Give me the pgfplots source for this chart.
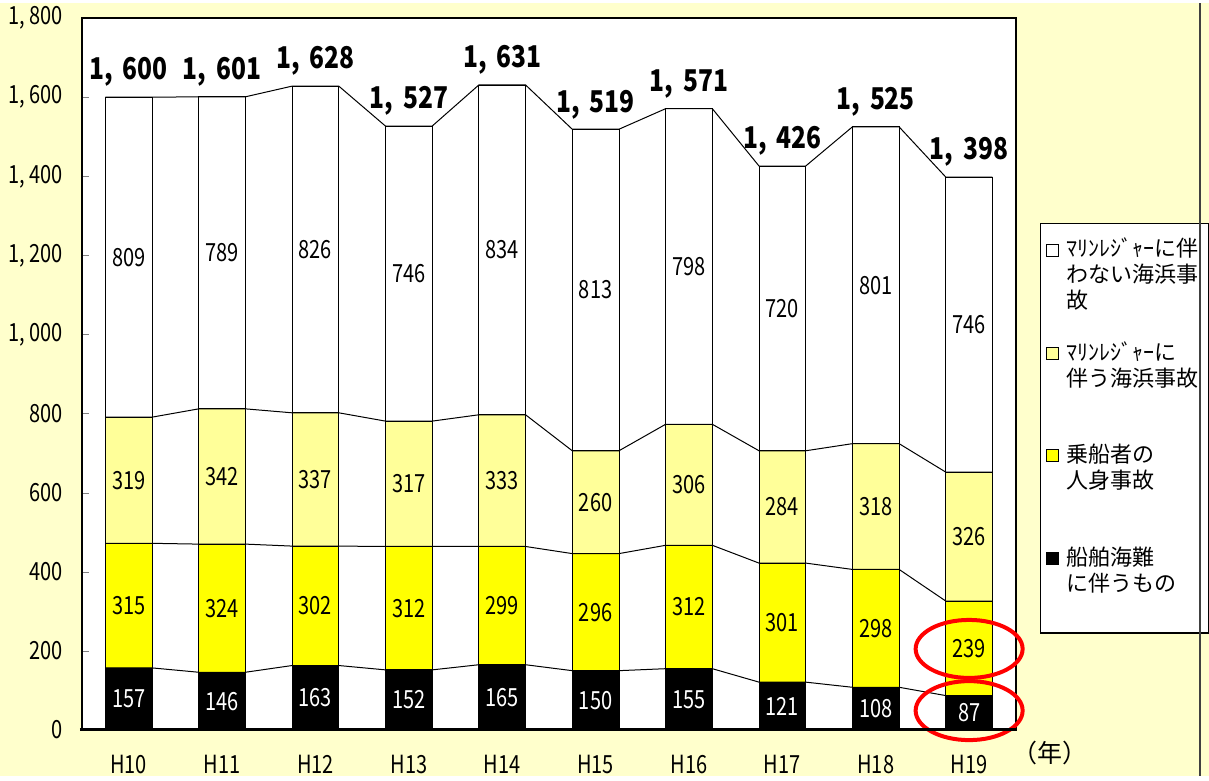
\documentclass[border=0pt]{standalone}
\usepackage{pgfplots}
\pgfplotsset{compat=1.18}
\usepackage{fontspec}
\setmainfont{Noto Sans CJK JP}
\usetikzlibrary{backgrounds}

\definecolor{bg}{HTML}{FFFFCC}
\definecolor{lyel}{HTML}{FFFF99}
\definecolor{yel}{HTML}{FFFF00}
\newcommand{\nx}[1]{\scalebox{0.8}[1]{#1}}
% every legend entry has three lines; base is the last line
\newcommand{\lgx}[3]{\begin{tabular}[b]{@{}l@{}}#1\\#2\\#3\end{tabular}}
\newcommand{\cs}{,\hspace{0.4em}}

\pgfplotsset{
  base/.style={
    scale only axis, width=467pt, height=356pt,
    xmin=-0.5, xmax=9.5, ymin=0, ymax=1800,
  },
  lbl/.style={
    draw=none, mark=none, forget plot,
    nodes near coords={\nx{\pgfplotspointmeta}},
    point meta=explicit symbolic,
    nodes near coords style={anchor=center, inner sep=0pt,
      font=\fontsize{12.5}{14}\selectfont, text=#1},
  },
  sline/.style={black, line width=0.5pt, mark=none, forget plot},
}

\begin{document}
\begin{tikzpicture}
\begin{axis}[base,
    ybar stacked, bar width=0.5,
    axis line style={black, line width=0.8pt},
    tick align=inside, ytick pos=left,
    major tick length=3.5pt,
    ytick={0,200,...,1800},
    yticklabels={\nx{0},\nx{200},\nx{400},\nx{600},\nx{800},
      {\nx{1,\ 000}},{\nx{1,\ 200}},{\nx{1,\ 400}},{\nx{1,\ 600}},{\nx{1,\ 800}}},
    yticklabel style={font=\fontsize{12.5}{14}\selectfont, xshift=-6pt},
    xtick={0,...,9},
    xticklabels={\nx{H10},\nx{H11},\nx{H12},\nx{H13},\nx{H14},
      \nx{H15},\nx{H16},\nx{H17},\nx{H18},\nx{H19}},
    xticklabel style={font=\fontsize{12.5}{14}\selectfont, yshift=-9pt},
    x tick style={draw=none},
    reverse legend,
    legend image code/.code={\draw[#1, draw=black, line width=0.5pt] (0pt,26pt) rectangle (6pt,32pt);},
    legend style={at={(1,1)}, anchor=north west, xshift=12pt, yshift=-102.5pt,
      draw=black, fill=white, line width=0.6pt,
      font=\fontsize{11}{12.5}\selectfont, row sep=11pt, column sep=1.5pt,
      inner ysep=5pt, inner xsep=3pt,
      cells={anchor=base west}},
  ]
  \addplot[fill=black, draw=black, line width=0.4pt] coordinates
    {(0,157) (1,146) (2,163) (3,152) (4,165) (5,150) (6,155) (7,121) (8,108) (9,87)};
  \addlegendentry{\lgx{船舶海難}{に伴うもの}{\mbox{}}}
  \addplot[fill=yel, draw=black, line width=0.4pt] coordinates
    {(0,315) (1,324) (2,302) (3,312) (4,299) (5,296) (6,312) (7,301) (8,298) (9,239)};
  \addlegendentry{\lgx{乗船者の}{人身事故}{\mbox{}}}
  \addplot[fill=lyel, draw=black, line width=0.4pt] coordinates
    {(0,319) (1,342) (2,337) (3,317) (4,333) (5,260) (6,306) (7,284) (8,318) (9,326)};
  \addlegendentry{\lgx{ﾏﾘﾝﾚｼﾞｬｰに}{伴う海浜事故}{\mbox{}}}
  \addplot[fill=white, draw=black, line width=0.4pt] coordinates
    {(0,809) (1,789) (2,826) (3,746) (4,834) (5,813) (6,798) (7,720) (8,801) (9,746)};
  \addlegendentry{\lgx{ﾏﾘﾝﾚｼﾞｬｰに伴}{わない海浜事}{故}}
\end{axis}

\begin{axis}[base, hide axis, clip=false]
  % series lines (cumulative tops)
  \addplot[sline] coordinates {(-0.25,157)(0.25,157)(0.75,146)(1.25,146)(1.75,163)(2.25,163)(2.75,152)(3.25,152)(3.75,165)(4.25,165)(4.75,150)(5.25,150)(5.75,155)(6.25,155)(6.75,121)(7.25,121)(7.75,108)(8.25,108)(8.75,87)(9.25,87)};
  \addplot[sline] coordinates {(-0.25,472)(0.25,472)(0.75,470)(1.25,470)(1.75,465)(2.25,465)(2.75,464)(3.25,464)(3.75,464)(4.25,464)(4.75,446)(5.25,446)(5.75,467)(6.25,467)(6.75,422)(7.25,422)(7.75,406)(8.25,406)(8.75,326)(9.25,326)};
  \addplot[sline] coordinates {(-0.25,791)(0.25,791)(0.75,812)(1.25,812)(1.75,802)(2.25,802)(2.75,781)(3.25,781)(3.75,797)(4.25,797)(4.75,706)(5.25,706)(5.75,773)(6.25,773)(6.75,706)(7.25,706)(7.75,724)(8.25,724)(8.75,652)(9.25,652)};
  \addplot[sline] coordinates {(-0.25,1600)(0.25,1600)(0.75,1601)(1.25,1601)(1.75,1628)(2.25,1628)(2.75,1527)(3.25,1527)(3.75,1631)(4.25,1631)(4.75,1519)(5.25,1519)(5.75,1571)(6.25,1571)(6.75,1426)(7.25,1426)(7.75,1525)(8.25,1525)(8.75,1398)(9.25,1398)};
  % segment labels
  \addplot[lbl=white] coordinates {(0,78.5)[157] (1,73)[146] (2,81.5)[163] (3,76)[152] (4,82.5)[165] (5,75)[150] (6,77.5)[155] (7,60.5)[121] (8,54)[108] (9,43.5)[87]};
  \addplot[lbl=black] coordinates {(0,314.5)[315] (1,308)[324] (2,314)[302] (3,308)[312] (4,314.5)[299] (5,298)[296] (6,311)[312] (7,271.5)[301] (8,257)[298] (9,206.5)[239]};
  \addplot[lbl=black] coordinates {(0,631.5)[319] (1,641)[342] (2,633.5)[337] (3,622.5)[317] (4,630.5)[333] (5,576)[260] (6,620)[306] (7,564)[284] (8,565)[318] (9,489)[326]};
  \addplot[lbl=black] coordinates {(0,1195.5)[809] (1,1206.5)[789] (2,1215)[826] (3,1154)[746] (4,1214)[834] (5,1112.5)[813] (6,1172)[798] (7,1066)[720] (8,1124.5)[801] (9,1025)[746]};
  % totals
  \addplot[draw=none, mark=none, forget plot,
    nodes near coords={\scalebox{0.82}[1]{\pgfplotspointmeta}},
    point meta=explicit symbolic,
    nodes near coords style={anchor=south, inner sep=0pt, yshift=5pt,
      font=\fontsize{15}{17}\selectfont\bfseries}]
    coordinates {(0,1600)[{1\cs 600}] (1,1601)[{1\cs 601}] (2,1628)[{1\cs 628}] (3,1527)[{1\cs 527}] (4,1631)[{1\cs 631}] (5,1519)[{1\cs 519}] (6,1571)[{1\cs 571}] (7,1426)[{1\cs 426}] (8,1525)[{1\cs 525}] (9,1398)[{1\cs 398}]};
  \draw[red, line width=2pt] (axis cs:9,205) ellipse [x radius=26.75pt, y radius=14.5pt];
  \draw[red, line width=2pt] (axis cs:9,49) ellipse [x radius=26.75pt, y radius=14.75pt];
\end{axis}

\draw[black, line width=1.5pt] ([xshift=-1pt]current axis.south west) -- (current axis.south east);
\node[font=\fontsize{12.5}{14}\selectfont] at ([xshift=17pt,yshift=-11.5pt]current axis.south east) {（年）};
\draw[black!75, line width=1pt] ([xshift=92pt,yshift=-23pt]current axis.south east) -- ([xshift=92pt,yshift=7.5pt]current axis.north east);

\begin{pgfonlayer}{background}
  \fill[bg] ([xshift=-41pt,yshift=-23pt]current axis.south west) rectangle ([xshift=96.5pt,yshift=7.5pt]current axis.north east);
  \fill[white] (current axis.south west) rectangle (current axis.north east);
\end{pgfonlayer}
\end{tikzpicture}
\end{document}
